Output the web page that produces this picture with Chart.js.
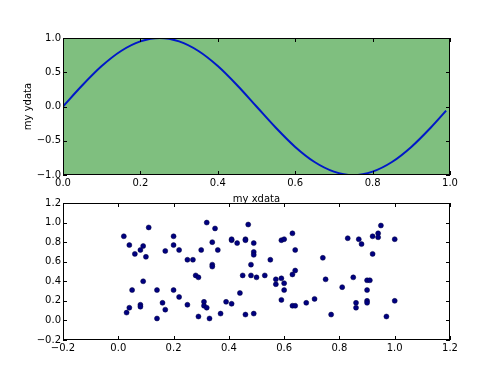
<!DOCTYPE html>
<html>
<head>
<meta charset="utf-8">
<script src="https://cdn.jsdelivr.net/npm/chart.js@4"></script>
<style>
  body { margin: 0; background: #fff; }
  #wrap { position: relative; width: 500px; height: 378px; }
  canvas { position: absolute; left: 0; top: 0; }
</style>
</head>
<body>
<div id="wrap">
  <canvas id="scatterChart" width="500" height="378"></canvas>
  <canvas id="sineChart" width="500" height="215"></canvas>
</div>
<script>
// top plot: the curve
const curveX = [0, 0.05, 0.1, 0.15, 0.2, 0.25, 0.3, 0.35, 0.4, 0.45, 0.5,
                0.55, 0.6, 0.65, 0.7, 0.75, 0.8, 0.85, 0.9, 0.95, 0.99];
const curveY = [0, 0.31, 0.59, 0.81, 0.95, 1.0, 0.95, 0.81, 0.59, 0.31, 0,
                -0.31, -0.59, -0.81, -0.95, -1.0, -0.95, -0.81, -0.59, -0.31, -0.06];

// bottom plot: scattered points
const dotsX = [0.11, 0.02, 0.04, 0.06, 0.09, 0.08, 0.10, 0.09, 0.05, 0.03,
               0.04, 0.08, 0.08, 0.14, 0.16, 0.17, 0.14, 0.17, 0.20, 0.20,
               0.22, 0.20, 0.22, 0.25, 0.27, 0.25, 0.28, 0.29, 0.30, 0.29,
               0.31, 0.31, 0.32, 0.33, 0.32, 0.35, 0.34, 0.34, 0.34, 0.36,
               0.37, 0.47, 0.41, 0.41, 0.43, 0.46, 0.46, 0.49, 0.49, 0.49,
               0.48, 0.45, 0.48, 0.50, 0.44, 0.39, 0.41, 0.46, 0.49, 0.53,
               0.55, 0.57, 0.57, 0.59, 0.60, 0.60, 0.59, 0.59, 0.60, 0.63,
               0.64, 0.63, 0.64, 0.63, 0.64, 0.68, 0.71, 0.74, 0.75, 0.77,
               0.95, 0.94, 0.92, 0.94, 0.83, 0.87, 0.88, 1.00, 0.92, 0.85,
               0.90, 0.91, 0.81, 0.90, 0.86, 0.86, 0.90, 0.90, 1.00, 0.97];
const dotsY = [0.95, 0.86, 0.77, 0.68, 0.76, 0.72, 0.65, 0.40, 0.31, 0.08,
               0.13, 0.16, 0.14, 0.31, 0.18, 0.11, 0.02, 0.71, 0.86, 0.77,
               0.72, 0.31, 0.24, 0.62, 0.62, 0.16, 0.46, 0.44, 0.72, 0.04,
               0.19, 0.15, 0.13, 0.02, 1.00, 0.94, 0.80, 0.57, 0.55, 0.72,
               0.07, 0.98, 0.82, 0.83, 0.79, 0.83, 0.82, 0.79, 0.70, 0.67,
               0.57, 0.46, 0.46, 0.44, 0.28, 0.19, 0.17, 0.06, 0.07, 0.46,
               0.62, 0.42, 0.37, 0.43, 0.38, 0.31, 0.21, 0.82, 0.83, 0.89,
               0.72, 0.47, 0.51, 0.15, 0.15, 0.18, 0.22, 0.64, 0.42, 0.06,
               0.97, 0.89, 0.86, 0.85, 0.84, 0.83, 0.78, 0.83, 0.68, 0.44,
               0.41, 0.41, 0.34, 0.31, 0.18, 0.13, 0.20, 0.18, 0.20, 0.04];

const font = { family: 'DejaVu Sans', size: 10 };
Chart.defaults.color = '#000';

// tick text like 0.0, −0.2 (no "−0.0" from float noise)
function fmt(v) {
    if (Math.abs(v) < 1e-9) v = 0;
    return (v < 0 ? '\u2212' : '') + Math.abs(v).toFixed(1);
}

// green background, black box and inward ticks on all four sides
const framePlugin = {
    id: 'frame',
    beforeDatasetsDraw(chart, args, opts) {
        if (!opts.bg) return;
        const a = chart.chartArea, ctx = chart.ctx;
        ctx.save();
        ctx.fillStyle = opts.bg;
        ctx.fillRect(a.left, a.top, a.right - a.left, a.bottom - a.top);
        ctx.restore();
    },
    afterDraw(chart) {
        const a = chart.chartArea, ctx = chart.ctx;
        const sx = chart.scales.x, sy = chart.scales.y;
        ctx.save();
        ctx.strokeStyle = '#000';
        ctx.lineWidth = 1;
        ctx.beginPath();
        sx.ticks.forEach(function(t) {
            const p = Math.round(sx.getPixelForValue(t.value)) + 0.5;
            ctx.moveTo(p, a.bottom); ctx.lineTo(p, a.bottom - 4);
            ctx.moveTo(p, a.top); ctx.lineTo(p, a.top + 4);
        });
        sy.ticks.forEach(function(t) {
            const p = Math.round(sy.getPixelForValue(t.value)) + 0.5;
            ctx.moveTo(a.left, p); ctx.lineTo(a.left + 4, p);
            ctx.moveTo(a.right, p); ctx.lineTo(a.right - 4, p);
        });
        ctx.stroke();
        ctx.strokeRect(Math.round(a.left) + 0.5, Math.round(a.top) + 0.5,
                       Math.round(a.right - a.left) - 1, Math.round(a.bottom - a.top) - 1);
        ctx.restore();
    }
};

function axisX(min, max, step, h, title) {
    return {
        type: 'linear', min: min, max: max,
        grid: { display: false, drawTicks: false },
        border: { display: false },
        ticks: { stepSize: step, font: font, padding: 2, callback: fmt, maxRotation: 0 },
        title: { display: !!title, text: title, font: font, padding: { top: 0, bottom: 10 } },
        afterFit: function(s) { s.height = h; }
    };
}

function axisY(min, max, step, title) {
    return {
        type: 'linear', min: min, max: max,
        grid: { display: false, drawTicks: false },
        border: { display: false },
        ticks: { stepSize: step, font: font, padding: 2, callback: fmt },
        title: { display: !!title, text: title, font: font, padding: { top: 22, bottom: 0 } },
        afterFit: function(s) { s.width = 63; }
    };
}

const curvePoints = curveX.map(function(x, i) { return { x: x, y: curveY[i] }; });
const dotPoints = dotsX.map(function(x, i) { return { x: x, y: dotsY[i] }; });

new Chart(document.getElementById('sineChart'), {
    type: 'line',
    data: {
        datasets: [{
            data: curvePoints,
            borderColor: '#0018c8',
            borderWidth: 2,
            pointRadius: 0,
            cubicInterpolationMode: 'monotone',
            fill: false
        }]
    },
    options: {
        responsive: false,
        animation: false,
        devicePixelRatio: 1,
        layout: { padding: { top: 38, right: 50, left: 0, bottom: 0 } },
        plugins: { legend: { display: false }, tooltip: { enabled: false }, frame: { bg: '#7fbf7f' } },
        scales: {
            x: axisX(0, 1, 0.2, 40, 'my xdata'),
            y: axisY(-1, 1, 0.5, 'my ydata')
        }
    },
    plugins: [framePlugin]
});

new Chart(document.getElementById('scatterChart'), {
    type: 'scatter',
    data: {
        datasets: [{
            data: dotPoints,
            backgroundColor: '#000080',
            borderColor: '#000040',
            borderWidth: 0.5,
            pointRadius: 2.5
        }]
    },
    options: {
        responsive: false,
        animation: false,
        devicePixelRatio: 1,
        layout: { padding: { top: 203, right: 50, left: 0, bottom: 0 } },
        plugins: { legend: { display: false }, tooltip: { enabled: false }, frame: {} },
        scales: {
            x: axisX(-0.2, 1.2, 0.2, 38, ''),
            y: axisY(-0.2, 1.2, 0.2, '')
        }
    },
    plugins: [framePlugin]
});
</script>
</body>
</html>
